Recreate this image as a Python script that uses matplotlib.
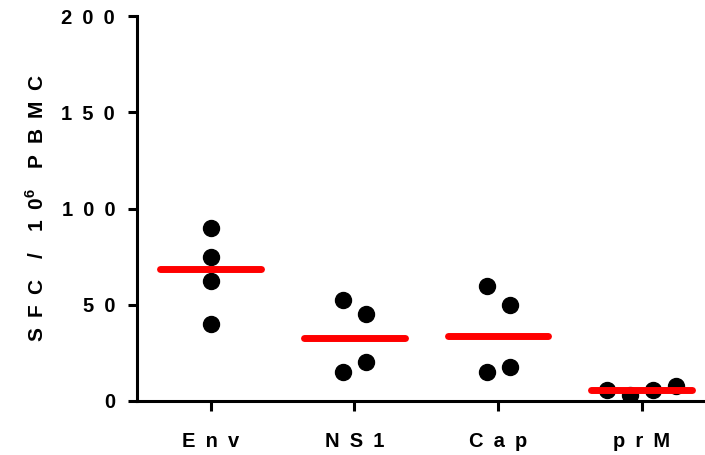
import numpy as np
import matplotlib
matplotlib.use("Agg")
import matplotlib.pyplot as plt

# data
categories = ["Env", "NS1", "Cap", "prM"]
env = [90, 75, 62.5, 40]
ns1 = [52.5, 45, 15, 20]
cap = [60, 50, 15, 17.5]
prm = [5.5, 3, 5.5, 8]
yticks = [0, 50, 100, 150, 200]

plt.rcParams['font.family'] = ['Liberation Sans', 'DejaVu Sans']
plt.rcParams['font.weight'] = 'bold'
plt.rcParams['mathtext.fontset'] = 'custom'
plt.rcParams['mathtext.rm'] = 'Liberation Sans:bold'
plt.rcParams['mathtext.bf'] = 'Liberation Sans:bold'

SP = "\u2002"  # letter spacing like the original


def spaced(s):
    return SP.join(list(s))


# spread points that sit close in y into centred rows (like a scatter dot plot)
def row_offsets(vals, thresh=11, step=0.16):
    vals = np.asarray(vals, dtype=float)
    order = np.argsort(vals, kind="stable")
    rows, cur = [], [order[0]]
    for i in order[1:]:
        if vals[i] - vals[cur[-1]] < thresh:
            cur.append(i)
        else:
            rows.append(cur)
            cur = [i]
    rows.append(cur)
    offs = np.zeros(len(vals))
    for r in rows:
        r = sorted(r)
        n = len(r)
        for k, i in enumerate(r):
            offs[i] = (k - (n - 1) / 2) * step
    return offs


fig = plt.figure(figsize=(7.05, 4.55), dpi=100)
ax = fig.add_axes([0.194, 0.1187, 0.806, 0.846])

groups = [env, ns1, cap, prm]
for i, g in enumerate(groups):
    xs = i + row_offsets(g)
    ax.plot(xs, g, 'o', color='black', markersize=11.5, zorder=2)
    med = np.median(g)
    ax.plot([i - 0.35, i + 0.35], [med, med], color='#ff0000', lw=5,
            solid_capstyle='round', zorder=3)

ax.set_xlim(-0.515, 3.44)
ax.set_ylim(0, 200)
ax.set_xticks(range(len(categories)))
ax.set_xticklabels([spaced(c) for c in categories], fontsize=14.5, fontweight='bold')
ax.set_yticks(yticks)
ax.set_yticklabels([spaced(str(t)) for t in yticks], fontsize=14.5, fontweight='bold')

for s in ['top', 'right']:
    ax.spines[s].set_visible(False)
for s in ['left', 'bottom']:
    ax.spines[s].set_linewidth(2.2)
ax.tick_params(axis='y', length=6.5, width=2.2, pad=9)
ax.tick_params(axis='x', length=7.5, width=2.2, pad=15)

ax.set_ylabel(SP.join(["S", "F", "C", "", "/", "", "1", "0$^{6}$", "", "P", "B", "M", "C"]),
              fontsize=15, fontweight='bold')
ax.yaxis.set_label_coords(-0.157, 0.5)

fig.savefig("out.png", dpi=100)
